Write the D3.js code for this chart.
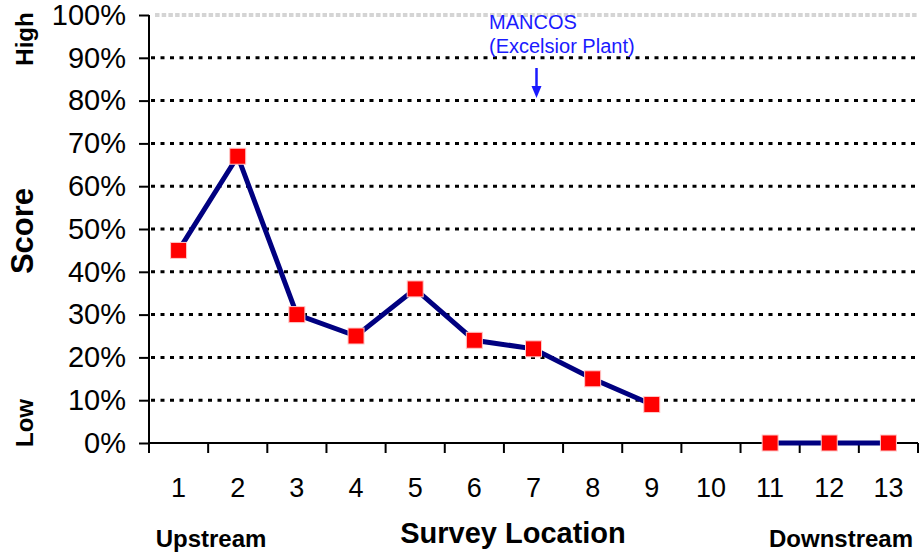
<!DOCTYPE html>
<html>
<head>
<meta charset="utf-8">
<script src="https://cdn.jsdelivr.net/npm/d3@7"></script>
<style>
  html, body { margin: 0; padding: 0; background: #fff; }
  svg { display: block; font-family: Arial, "Liberation Sans", sans-serif; }
</style>
</head>
<body>
<svg id="chart" width="919" height="554"></svg>
<script>
// Survey locations along the river, upstream to downstream
const locations = ["1","2","3","4","5","6","7","8","9","10","11","12","13"];
// Score per location (percent); location 10 was not scored
const scores = [45, 67, 30, 25, 36, 24, 22, 15, 9, null, 0, 0, 0];
const yTicks = [0, 10, 20, 30, 40, 50, 60, 70, 80, 90, 100];
const annotationLines = ["MANCOS", "(Excelsior Plant)"];
const annotationAt = "7";

(function () {
const svg = d3.select("#chart");
const plotLeft = 149, plotRight = 918, plotTop = 15, plotBottom = 443;

const x = d3.scaleBand().domain(locations).range([plotLeft, plotRight]).paddingInner(0).paddingOuter(0);
const y = d3.scaleLinear().domain([0, 100]).range([plotBottom, plotTop]);

// Horizontal grid lines
svg.append("g").selectAll("line")
  .data(yTicks.filter(d => d > 0 && d < 100))
  .join("line")
  .attr("x1", plotLeft + 2).attr("x2", plotRight)
  .attr("y1", d => y(d)).attr("y2", d => y(d))
  .attr("stroke", "#000").attr("stroke-width", 3)
  .attr("stroke-dasharray", "4,5.5");

// Top border of the plot area (light double dashed rule)
svg.append("line")
  .attr("x1", plotLeft + 6).attr("x2", plotRight)
  .attr("y1", y(100)).attr("y2", y(100))
  .attr("stroke", "#aaa").attr("stroke-width", 3)
  .attr("stroke-dasharray", "4.5,2.2");
svg.append("line")
  .attr("x1", plotLeft + 2).attr("x2", plotRight)
  .attr("y1", y(100)).attr("y2", y(100))
  .attr("stroke", "#fff").attr("stroke-width", 1);

// Y axis
const yAxis = svg.append("g")
  .attr("transform", `translate(${plotLeft},0)`)
  .call(d3.axisLeft(y).tickValues(yTicks).tickSize(10).tickPadding(13).tickFormat(d => d + "%"));
yAxis.select(".domain").attr("stroke", "#000").attr("stroke-width", 2).attr("d", `M0,${plotTop}V${plotBottom}`);
yAxis.selectAll(".tick line").attr("stroke", "#000").attr("stroke-width", 2);
yAxis.selectAll(".tick text").attr("font-size", 29).attr("fill", "#000")
  .attr("font-family", "Arial, 'Liberation Sans', sans-serif");

// X axis: ticks sit on band boundaries, labels centred in bands
const xg = svg.append("g");
xg.append("line").attr("x1", plotLeft).attr("x2", plotRight).attr("y1", plotBottom).attr("y2", plotBottom)
  .attr("stroke", "#000").attr("stroke-width", 2);
const boundaries = locations.map(d => x(d)).concat([x(locations[locations.length - 1]) + x.bandwidth()]);
xg.selectAll("line.tk").data(boundaries).join("line").attr("class", "tk")
  .attr("x1", d => d).attr("x2", d => d).attr("y1", plotBottom).attr("y2", plotBottom + 10)
  .attr("stroke", "#000").attr("stroke-width", 2);
xg.selectAll("text").data(locations).join("text")
  .attr("x", d => x(d) + x.bandwidth() / 2).attr("y", 497)
  .attr("text-anchor", "middle").attr("font-size", 27).attr("fill", "#000")
  .text(d => d);

// Score line (broken where a location has no score)
const cx = d => x(d) + x.bandwidth() / 2;
const pts = locations.map((d, i) => ({ loc: d, v: scores[i] }));
const line = d3.line().defined(p => p.v !== null).x(p => cx(p.loc)).y(p => y(p.v));
svg.append("path").datum(pts).attr("d", line)
  .attr("fill", "none").attr("stroke", "#000080").attr("stroke-width", 5);

// Markers
const ms = 16;
svg.append("g").selectAll("rect").data(pts.filter(p => p.v !== null)).join("rect")
  .attr("x", p => cx(p.loc) - ms / 2).attr("y", p => y(p.v) - ms / 2)
  .attr("width", ms).attr("height", ms)
  .attr("fill", "#ff0000").attr("stroke", "#ffc8c8").attr("stroke-width", 1);

// Annotation with arrow
const ann = svg.append("g").attr("fill", "#1a1aff").attr("font-size", 20);
annotationLines.forEach((t, i) => {
  ann.append("text").attr("x", 489).attr("y", 29 + i * 24).text(t);
});
const ax = cx(annotationAt) + 3;
svg.append("line").attr("x1", ax).attr("x2", ax).attr("y1", 68).attr("y2", 88)
  .attr("stroke", "#1a1aff").attr("stroke-width", 2.5);
svg.append("path").attr("d", `M${ax - 5},86L${ax + 5},86L${ax},98Z`).attr("fill", "#1a1aff");

// Axis titles and direction labels
svg.append("text").attr("transform", "translate(33,231) rotate(-90)")
  .attr("text-anchor", "middle").attr("font-size", 31).attr("font-weight", "bold").text("Score");
svg.append("text").attr("transform", "translate(33,39) rotate(-90)")
  .attr("text-anchor", "middle").attr("font-size", 24).attr("font-weight", "bold").text("High");
svg.append("text").attr("transform", "translate(33,423) rotate(-90)")
  .attr("text-anchor", "middle").attr("font-size", 24).attr("font-weight", "bold").text("Low");
svg.append("text").attr("x", 513).attr("y", 543).attr("text-anchor", "middle")
  .attr("font-size", 29).attr("font-weight", "bold").text("Survey Location");
svg.append("text").attr("x", 211).attr("y", 547).attr("text-anchor", "middle")
  .attr("font-size", 24).attr("font-weight", "bold").text("Upstream");
svg.append("text").attr("x", 841).attr("y", 547).attr("text-anchor", "middle")
  .attr("font-size", 24).attr("font-weight", "bold").text("Downstream");
})();
</script>
</body>
</html>
